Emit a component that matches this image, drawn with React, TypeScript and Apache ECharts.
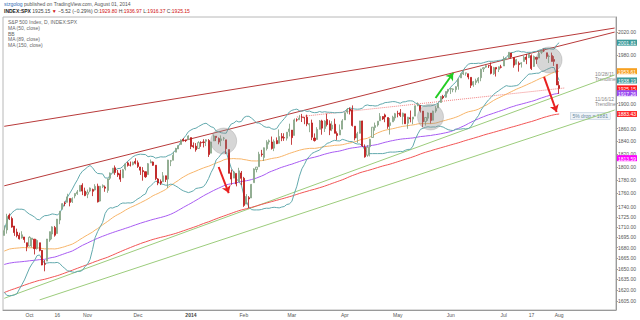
import React, { useEffect, useRef } from 'react';
import * as echarts from 'echarts';

// ---- history closes (for indicator warm-up, not drawn) ----
const feb13 = [1520.33, 1521.38, 1519.79, 1530.94, 1511.95, 1502.42, 1515.6, 1487.85, 1496.94, 1515.99, 1514.68];
const mar13 = [1518.2, 1525.2, 1539.79, 1541.46, 1544.26, 1551.18, 1556.22, 1552.48, 1554.52, 1563.23, 1560.7, 1552.1, 1548.34, 1558.71, 1545.8, 1556.89, 1551.69, 1563.77, 1562.85, 1569.19];
const apr13 = [1562.17, 1570.25, 1553.69, 1559.98, 1553.28, 1563.07, 1568.61, 1587.73, 1593.37, 1588.85, 1552.36, 1574.57, 1552.01, 1541.61, 1555.25, 1562.5, 1578.78, 1578.79, 1585.16, 1582.24, 1593.61, 1597.57];
const may13 = [1582.7, 1597.59, 1614.42, 1617.5, 1625.96, 1632.69, 1626.67, 1633.7, 1633.77, 1650.34, 1658.78, 1650.47, 1667.47, 1666.29, 1669.16, 1655.35, 1650.51, 1649.6, 1660.06, 1648.36, 1654.41, 1630.74];
const jun13 = [1640.42, 1631.38, 1608.9, 1622.56, 1643.38, 1642.81, 1626.13, 1612.52, 1636.36, 1626.73, 1639.04, 1651.81, 1628.93, 1588.19, 1592.43, 1573.09, 1588.03, 1603.26, 1613.2, 1606.28];
const jul13 = [1614.96, 1614.08, 1615.41, 1631.89, 1640.46, 1652.32, 1652.62, 1675.02, 1680.19, 1682.5, 1676.26, 1680.91, 1689.37, 1692.09, 1695.53, 1692.39, 1685.94, 1690.25, 1691.65, 1685.33, 1685.96, 1685.73];
const aug13 = [1706.87, 1709.67, 1707.14, 1697.37, 1690.91, 1697.48, 1691.42, 1689.47, 1694.16, 1685.39, 1661.32, 1655.83, 1646.06, 1652.35, 1642.8, 1656.96, 1663.5, 1656.78, 1630.48, 1634.96, 1638.17, 1632.97];
const sep13early = [1639.77, 1653.08, 1655.08, 1655.17, 1671.71, 1683.99, 1689.13, 1683.42, 1687.99, 1697.6];

// ---- visible daily candles [open, high, low, close] ----
const sep13 = [
  [1697.73, 1712.36, 1697.73, 1704.76], [1705.74, 1729.44, 1700.35, 1725.52], [1727.34, 1729.86, 1720.2, 1722.34],
  [1722.44, 1725.23, 1708.89, 1709.91], [1711.44, 1711.44, 1697.1, 1701.84], [1702.6, 1707.63, 1694.9, 1697.42],
  [1698.02, 1701.71, 1691.88, 1692.77], [1694.05, 1703.85, 1693.11, 1698.67], [1695.52, 1695.52, 1687.11, 1691.75],
  [1687.26, 1687.26, 1674.99, 1681.55],
];
const oct13 = [
  [1682.41, 1696.55, 1682.07, 1695.0], [1691.9, 1693.87, 1680.34, 1693.87], [1692.35, 1692.35, 1670.36, 1678.66],
  [1678.79, 1691.94, 1677.33, 1690.5], [1687.15, 1687.15, 1674.7, 1676.12], [1676.22, 1676.79, 1655.03, 1655.45],
  [1656.99, 1662.47, 1646.47, 1656.4], [1660.88, 1692.56, 1660.88, 1692.56], [1691.09, 1703.44, 1688.52, 1703.2],
  [1699.86, 1711.03, 1692.13, 1710.14], [1709.17, 1711.57, 1695.93, 1698.06], [1700.49, 1721.76, 1700.49, 1721.54],
  [1720.17, 1733.45, 1714.12, 1733.15], [1736.72, 1745.31, 1735.74, 1744.5], [1745.2, 1747.79, 1740.67, 1744.66],
  [1746.48, 1759.33, 1746.48, 1754.67], [1752.27, 1752.27, 1740.5, 1746.38], [1747.48, 1753.94, 1745.5, 1752.07],
  [1756.01, 1759.82, 1752.45, 1759.77], [1759.42, 1764.99, 1757.67, 1762.11], [1762.93, 1772.09, 1762.93, 1771.95],
  [1772.27, 1775.22, 1757.24, 1763.31], [1763.24, 1768.53, 1755.72, 1756.54],
];
const nov13 = [
  [1758.7, 1765.67, 1752.7, 1761.64], [1763.4, 1768.78, 1761.56, 1767.93], [1765.67, 1767.03, 1755.76, 1762.97],
  [1765.0, 1773.74, 1764.23, 1770.49], [1770.74, 1774.54, 1746.2, 1747.15], [1748.37, 1770.78, 1747.63, 1770.61],
  [1769.96, 1773.44, 1767.85, 1771.89], [1769.51, 1771.78, 1762.29, 1767.69], [1764.37, 1782.0, 1760.64, 1782.0],
  [1782.75, 1791.53, 1780.22, 1790.62], [1790.66, 1798.22, 1790.66, 1798.18], [1798.82, 1802.33, 1788.0, 1791.53],
  [1790.79, 1795.51, 1784.72, 1787.87], [1789.59, 1795.73, 1777.23, 1781.37], [1783.52, 1797.16, 1783.52, 1795.85],
  [1797.21, 1804.84, 1794.7, 1804.76], [1806.33, 1808.1, 1800.58, 1802.48], [1802.87, 1808.42, 1800.77, 1802.75],
  [1803.48, 1808.27, 1802.59, 1807.23], [1808.69, 1813.55, 1803.98, 1805.81],
];
const dec13 = [
  [1806.55, 1810.02, 1798.6, 1800.9], [1800.1, 1800.1, 1787.85, 1795.15], [1794.46, 1799.8, 1779.09, 1792.81],
  [1792.82, 1792.82, 1783.38, 1785.03], [1788.36, 1806.04, 1788.36, 1805.09], [1806.21, 1811.52, 1806.21, 1808.37],
  [1807.6, 1808.52, 1801.75, 1802.62], [1802.76, 1802.97, 1780.09, 1782.22], [1781.71, 1782.99, 1772.28, 1775.5],
  [1777.98, 1780.92, 1772.45, 1775.32], [1777.48, 1792.22, 1777.48, 1786.54], [1786.47, 1786.77, 1777.05, 1781.0],
  [1781.46, 1811.08, 1767.99, 1810.65], [1809.0, 1810.88, 1801.35, 1809.6], [1810.39, 1823.75, 1810.25, 1818.32],
  [1822.92, 1829.75, 1822.92, 1827.99], [1828.02, 1833.32, 1828.02, 1833.32], [1834.96, 1842.84, 1834.96, 1842.02],
  [1842.97, 1844.89, 1839.81, 1841.4], [1841.47, 1842.47, 1838.77, 1841.07], [1842.61, 1849.44, 1842.41, 1848.36],
];
const jan14 = [
  [1845.86, 1845.86, 1827.74, 1831.98], [1833.21, 1838.24, 1829.13, 1831.37], [1832.31, 1837.16, 1823.73, 1826.77],
  [1828.71, 1840.1, 1828.71, 1837.88], [1837.9, 1840.02, 1831.4, 1837.49], [1839.0, 1843.23, 1830.38, 1838.13],
  [1840.06, 1843.15, 1832.43, 1842.37], [1841.26, 1843.45, 1815.52, 1819.2], [1821.36, 1839.26, 1821.36, 1838.88],
  [1840.52, 1850.84, 1840.52, 1848.38], [1847.99, 1847.99, 1840.3, 1845.89], [1844.23, 1846.04, 1835.23, 1838.7],
  [1841.05, 1849.31, 1832.38, 1843.8], [1844.71, 1846.87, 1840.88, 1844.86], [1842.29, 1842.29, 1820.06, 1828.46],
  [1826.96, 1826.96, 1790.29, 1790.29], [1791.03, 1795.98, 1772.88, 1781.56], [1783.0, 1793.87, 1783.0, 1792.5],
  [1790.15, 1790.15, 1770.45, 1774.2], [1777.17, 1798.77, 1777.17, 1794.19], [1790.88, 1793.88, 1772.26, 1782.59],
];
const feb14 = [
  [1782.68, 1784.83, 1739.66, 1741.89], [1743.82, 1758.73, 1743.82, 1755.2], [1753.38, 1755.79, 1737.92, 1751.64],
  [1752.99, 1774.06, 1752.99, 1773.43], [1776.01, 1798.03, 1776.01, 1797.02], [1796.2, 1799.94, 1791.83, 1799.84],
  [1800.45, 1823.54, 1800.41, 1819.75], [1820.12, 1826.55, 1815.97, 1819.26], [1814.82, 1830.25, 1809.22, 1829.83],
  [1828.46, 1841.65, 1825.59, 1838.63], [1839.03, 1842.87, 1835.01, 1840.76], [1838.9, 1847.5, 1826.99, 1828.75],
  [1829.24, 1842.79, 1824.58, 1839.78], [1841.07, 1846.13, 1835.6, 1836.25], [1836.78, 1858.71, 1836.78, 1847.61],
  [1847.66, 1852.91, 1840.19, 1845.12], [1845.79, 1852.65, 1840.66, 1845.16], [1844.9, 1854.53, 1841.13, 1854.29],
  [1855.12, 1867.92, 1847.67, 1859.45],
];
const mar14 = [
  [1857.68, 1857.68, 1834.44, 1845.73], [1849.23, 1876.23, 1849.23, 1873.91], [1874.05, 1876.53, 1871.11, 1873.81],
  [1874.18, 1881.94, 1874.18, 1877.03], [1878.52, 1883.57, 1870.56, 1878.04], [1877.86, 1877.87, 1867.04, 1877.17],
  [1878.26, 1882.35, 1863.88, 1867.63], [1866.15, 1868.38, 1854.38, 1868.2], [1869.06, 1874.4, 1841.86, 1846.34],
  [1845.07, 1852.44, 1839.57, 1841.13], [1842.81, 1862.3, 1842.81, 1858.83], [1858.92, 1873.76, 1858.92, 1872.25],
  [1872.25, 1874.14, 1850.35, 1860.77], [1860.09, 1873.49, 1854.63, 1872.01], [1874.53, 1883.97, 1863.46, 1866.52],
  [1867.67, 1873.34, 1849.69, 1857.44], [1859.48, 1871.87, 1855.96, 1865.62], [1867.09, 1875.92, 1852.56, 1852.56],
  [1852.11, 1855.55, 1842.11, 1849.04], [1850.07, 1866.63, 1850.07, 1857.62], [1859.16, 1875.18, 1859.16, 1872.34],
];
const apr14 = [
  [1873.96, 1885.84, 1873.96, 1885.52], [1886.61, 1893.17, 1883.79, 1890.9], [1891.43, 1893.8, 1882.65, 1888.77],
  [1890.25, 1897.28, 1863.26, 1865.09], [1863.92, 1864.04, 1841.48, 1845.04], [1845.48, 1854.95, 1837.49, 1851.96],
  [1852.64, 1872.43, 1852.38, 1872.18], [1872.28, 1872.53, 1830.87, 1833.08], [1830.65, 1835.07, 1814.36, 1815.69],
  [1818.18, 1834.19, 1815.8, 1830.61], [1831.45, 1844.02, 1816.29, 1842.98], [1846.01, 1862.31, 1846.01, 1862.31],
  [1861.73, 1869.63, 1856.72, 1864.85], [1865.79, 1871.89, 1863.18, 1871.89], [1872.57, 1884.89, 1872.57, 1879.55],
  [1879.32, 1879.75, 1873.91, 1875.39], [1881.97, 1884.06, 1870.24, 1878.61], [1877.72, 1877.72, 1859.7, 1863.4],
  [1865.0, 1877.01, 1850.61, 1869.43], [1870.78, 1880.6, 1870.78, 1878.33], [1877.1, 1885.2, 1872.69, 1883.95],
];
const may14 = [
  [1884.39, 1888.59, 1878.04, 1883.68], [1885.3, 1891.33, 1878.5, 1881.14], [1879.45, 1885.51, 1866.77, 1884.66],
  [1883.69, 1883.69, 1867.72, 1867.72], [1868.53, 1878.83, 1859.79, 1878.21], [1877.39, 1889.07, 1870.05, 1875.63],
  [1875.27, 1878.57, 1867.02, 1878.48], [1880.03, 1897.13, 1880.03, 1896.65], [1896.75, 1902.17, 1896.06, 1897.45],
  [1897.13, 1897.13, 1885.77, 1888.53], [1888.16, 1888.16, 1862.36, 1870.85], [1871.19, 1878.28, 1864.82, 1877.86],
  [1876.66, 1886.0, 1872.42, 1885.08], [1884.88, 1884.88, 1868.14, 1872.83], [1873.34, 1888.8, 1873.34, 1888.03],
  [1888.19, 1896.33, 1885.39, 1892.49], [1893.32, 1901.26, 1893.32, 1900.53], [1902.01, 1912.28, 1902.01, 1911.91],
  [1911.77, 1914.46, 1907.3, 1909.78], [1910.6, 1920.03, 1909.82, 1920.03], [1920.33, 1924.03, 1916.64, 1923.57],
];
const jun14 = [
  [1923.87, 1925.88, 1915.98, 1924.97], [1923.07, 1925.07, 1918.79, 1924.24], [1923.06, 1928.63, 1918.6, 1927.88],
  [1928.52, 1941.74, 1922.93, 1940.46], [1942.41, 1949.44, 1942.41, 1949.44], [1948.97, 1955.55, 1947.16, 1951.27],
  [1950.34, 1950.86, 1946.09, 1950.79], [1949.37, 1949.37, 1940.08, 1943.89], [1943.35, 1943.35, 1925.78, 1930.11],
  [1930.8, 1937.3, 1927.69, 1936.16], [1934.84, 1941.15, 1930.91, 1937.78], [1937.15, 1943.69, 1933.55, 1941.99],
  [1942.73, 1957.74, 1936.86, 1956.98], [1957.5, 1959.87, 1952.26, 1959.48], [1960.45, 1963.91, 1959.17, 1962.87],
  [1962.92, 1963.74, 1958.89, 1962.61], [1961.97, 1968.17, 1948.34, 1949.98], [1949.27, 1960.83, 1947.49, 1959.53],
  [1959.89, 1959.89, 1944.69, 1957.22], [1956.56, 1961.47, 1952.18, 1960.96], [1960.79, 1964.24, 1958.22, 1960.23],
];
const jul14 = [
  [1962.29, 1978.58, 1962.29, 1973.32], [1973.06, 1976.67, 1972.58, 1974.62], [1975.88, 1985.59, 1975.88, 1985.44],
  [1984.22, 1984.22, 1974.88, 1977.65], [1976.39, 1976.39, 1959.46, 1963.71], [1965.1, 1974.15, 1965.1, 1972.83],
  [1966.67, 1969.84, 1952.86, 1964.68], [1965.76, 1968.67, 1959.63, 1967.57], [1969.86, 1979.85, 1969.86, 1977.1],
  [1977.36, 1982.52, 1965.34, 1973.28], [1976.35, 1983.94, 1975.67, 1981.57], [1979.75, 1981.8, 1955.59, 1958.12],
  [1961.54, 1979.91, 1960.82, 1978.22], [1976.93, 1976.93, 1965.77, 1973.63], [1975.65, 1986.24, 1975.65, 1983.53],
  [1985.32, 1989.23, 1982.44, 1987.01], [1988.07, 1991.39, 1985.79, 1987.98], [1984.6, 1984.6, 1974.37, 1978.34],
  [1978.25, 1981.52, 1967.31, 1978.91], [1980.03, 1984.85, 1969.95, 1969.95], [1973.21, 1978.9, 1962.42, 1970.07],
  [1965.14, 1965.14, 1930.67, 1930.67],
];
const aug14 = [[1929.8, 1936.97, 1916.37, 1925.15]];

// ---- axes ----
const xTickIdx = [10, 21, 33, 53, 74, 95, 114, 135, 156, 177, 198, 209, 220];
const xTickText = ['Oct', '16', 'Nov', 'Dec', '2014', 'Feb', 'Mar', 'Apr', 'May', 'Jun', 'Jul', '17', 'Aug'];
const yTicks = [2020, 1980, 1900, 1860, 1840, 1820, 1800, 1780, 1760, 1740, 1725, 1710, 1695, 1680, 1665, 1650, 1635, 1620, 1605];
const futureSlots = 22;
const extraTagValue = 1813.59;

// ---- drawings: [candle index, price] ----
const channelTop = [[0, 1863.7], [242, 2027]];
const channelLow = [[0, 1771.3], [242, 2020]];
const trend102811 = [[0, 1608.9], [242, 1947.3]];
const trend111612 = [[13.9, 1606.7], [242, 1889.8]];
const dottedLine = [[116.2, 1878.6], [221.7, 1925.7]];
const circles = [[87.1, 1840.4], [169.3, 1878.6], [215.6, 1972.4]];
const redArrow1 = [[84.7, 1800], [89.4, 1760.4]];
const redArrow2 = [[213.7, 1944], [219.2, 1886.6]];
const greenArrow = [[170.5, 1909.4], [178, 1950.6]];

export default function App() {
  const ref = useRef<HTMLDivElement>(null);
  useEffect(() => {
    if (!ref.current) return;
    const chart = echarts.init(ref.current, null, { renderer: 'svg' });
    const candles = [...sep13, ...oct13, ...nov13, ...dec13, ...jan14, ...feb14, ...mar14, ...apr14, ...may14, ...jun14, ...jul14, ...aug14];
    const prior = [...feb13, ...mar13, ...apr13, ...may13, ...jun13, ...jul13, ...aug13, ...sep13early];
    const closes = candles.map((r) => r[3]);
    const hist = [...prior, ...closes];
    const P = prior.length;
    const sma = (n: number) =>
      closes.map((_, i) => {
        const end = P + i;
        const start = Math.max(0, end - n + 1);
        let s = 0;
        for (let k = start; k <= end; k++) s += hist[k];
        return s / (end - start + 1);
      });
    const bb = (n: number, m: number) => {
      const up: number[] = [];
      const lo: number[] = [];
      closes.forEach((_, i) => {
        const end = P + i;
        const start = end - n + 1;
        let s = 0;
        for (let k = start; k <= end; k++) s += hist[k];
        const mean = s / n;
        let v = 0;
        for (let k = start; k <= end; k++) v += (hist[k] - mean) ** 2;
        const sd = Math.sqrt(v / n);
        up.push(mean + m * sd);
        lo.push(mean - m * sd);
      });
      return { up, lo };
    };
    const ma50 = sma(50);
    const ma89 = sma(89);
    const ma150 = sma(150);
    const band = bb(20, 2);
    const N = candles.length;
    const cats = Array.from({ length: N + futureSlots }, (_, i) => String(i));
    const last = (a: number[]) => a[a.length - 1];

    const tags = [
      { v: last(band.up), bg: '#3a9a9a', fg: '#fff' },
      { v: last(ma50), bg: '#f7a020', fg: '#fff' },
      { v: last(band.lo), bg: '#3a9a9a', fg: '#fff' },
      { v: last(closes), bg: '#ff1a1a', fg: '#fff' },
      { v: last(ma89), bg: '#9a48f0', fg: '#fff' },
      { v: last(ma150), bg: '#ff2a2a', fg: '#fff' },
      { v: extraTagValue, bg: '#ff00ff', fg: '#fff' },
    ];
    const rich: any = {};
    tags.forEach((t, i) => {
      rich['t' + i] = { backgroundColor: t.bg, color: t.fg, fontSize: 5, padding: [1, 1, 0, 1], fontFamily: 'Liberation Sans' };
    });

    const yMin = 1800 * Math.exp(-143 / 1170);
    const yMax = 1800 * Math.exp(150 / 1170);

    const lineSeries = (data: number[] | number[][], color: string, width = 1, type: any = 'solid', z = 3) => ({
      type: 'line',
      data,
      showSymbol: false,
      symbol: 'none',
      silent: true,
      clip: true,
      z,
      lineStyle: { color, width, type },
    });
    const arrow = (coords: number[][], color: string) => ({
      type: 'lines',
      coordinateSystem: 'cartesian2d',
      symbol: ['none', 'arrow'],
      symbolSize: 7,
      silent: true,
      z: 6,
      lineStyle: { color, width: 2, opacity: 1 },
      data: [{ coords }],
    });

    chart.setOption({
      animation: false,
      backgroundColor: '#ffffff',
      textStyle: { fontFamily: 'Liberation Sans' },
      grid: { left: 3, right: 20, top: 17, bottom: 10, show: true, borderColor: '#b8b8b8', borderWidth: 1, backgroundColor: 'transparent' },
      xAxis: {
        type: 'category',
        data: cats,
        axisLine: { lineStyle: { color: '#9a9a9a' } },
        axisTick: { show: false },
        splitLine: { show: false },
        axisLabel: {
          interval: (i: number) => xTickIdx.includes(i),
          formatter: (_v: string, i: number) => {
            const k = xTickIdx.indexOf(i);
            if (k < 0) return '';
            return xTickText[k] === '2014' ? '{b|2014}' : xTickText[k];
          },
          rich: { b: { fontWeight: 'bold', fontSize: 5, color: '#444' } },
          fontSize: 5,
          color: '#555',
          margin: 2,
        },
      },
      yAxis: [
        {
          type: 'log',
          logBase: 10,
          position: 'right',
          min: yMin,
          max: yMax,
          axisLine: { show: true, lineStyle: { color: '#9a9a9a' } },
          axisTick: { show: true, length: 2, lineStyle: { color: '#9a9a9a' }, customValues: yTicks },
          splitLine: { show: false },
          axisLabel: { fontSize: 5, color: '#555', margin: 2, customValues: yTicks, formatter: (v: number) => v.toFixed(2) },
        },
        {
          type: 'log',
          logBase: 10,
          position: 'right',
          min: yMin,
          max: yMax,
          axisLine: { show: false },
          axisTick: { show: false },
          splitLine: { show: false },
          axisLabel: {
            margin: 1,
            customValues: tags.map((t) => t.v),
            formatter: (v: number) => {
              let best = 0;
              tags.forEach((t, i) => {
                if (Math.abs(t.v - v) < Math.abs(tags[best].v - v)) best = i;
              });
              return '{t' + best + '|' + tags[best].v.toFixed(2) + '}';
            },
            rich,
          },
        },
      ],
      series: [
        lineSeries(channelTop, '#b83a3a'),
        lineSeries(channelLow, '#b83a3a'),
        lineSeries(trend102811, '#9ccc7c'),
        lineSeries(trend111612, '#9ccc7c'),
        lineSeries(dottedLine, '#f08080', 1, 'dotted'),
        lineSeries(ma150, '#f25555'),
        lineSeries(ma89, '#a85cf2'),
        lineSeries(ma50, '#f7b56a'),
        lineSeries(band.up, '#62a9ad'),
        lineSeries(band.lo, '#62a9ad'),
        {
          type: 'candlestick',
          data: candles.map((r) => [r[0], r[3], r[2], r[1]]),
          barWidth: '62%',
          z: 4,
          silent: true,
          itemStyle: { color: '#eef5ec', color0: '#d41c1c', borderColor: '#7a9a7a', borderColor0: '#b81414', borderWidth: 0.8 },
        },
        {
          type: 'scatter',
          data: circles,
          symbolSize: 26,
          silent: true,
          z: 5,
          itemStyle: { color: 'rgba(140,140,140,0.45)', borderColor: 'rgba(110,110,110,0.5)', borderWidth: 0.6 },
        },
        arrow(redArrow1, '#e82020'),
        arrow(redArrow2, '#e82020'),
        arrow(greenArrow, '#22cc22'),
      ],
      graphic: [
        {
          type: 'text',
          left: 4,
          top: 1,
          style: {
            text: '{u|stzgolog} published on TradingView.com, August 01, 2014',
            fontSize: 5,
            fill: '#555',
            fontFamily: 'Liberation Sans',
            rich: { u: { fill: '#2f6db5', fontSize: 5 } },
          },
        },
        {
          type: 'text',
          left: 4,
          top: 8,
          style: {
            text: '{b|INDEX:SPX} 1925.15 {r|▼} −5.52 (−0.29%) O:{r|1929.80} H:{r|1936.97} L:{r|1916.37} C:{r|1925.15}',
            fontSize: 5,
            fill: '#444',
            fontFamily: 'Liberation Sans',
            rich: { b: { fontWeight: 'bold', fontSize: 5, fill: '#222' }, r: { fill: '#d01010', fontSize: 5 } },
          },
        },
        {
          type: 'text',
          left: 8,
          top: 19,
          style: {
            text: 'S&P 500 Index, D, INDEX:SPX\nMA (50, close)\nBB\nMA (89, close)\nMA (150, close)',
            fontSize: 5,
            lineHeight: 5.8,
            fill: '#666',
            fontFamily: 'Liberation Sans',
          },
        },
        { type: 'text', left: 595, top: 71, style: { text: '10/28/11\nTrendline', fontSize: 5, lineHeight: 5, fill: '#888', fontFamily: 'Liberation Sans' } },
        { type: 'text', left: 595, top: 96, style: { text: '11/16/12\nTrendline', fontSize: 5, lineHeight: 5, fill: '#888', fontFamily: 'Liberation Sans' } },
        {
          type: 'text',
          left: 570,
          top: 112,
          style: {
            text: '5% drop = 1881',
            fontSize: 5,
            fill: '#6a8aa0',
            fontFamily: 'Liberation Sans',
            backgroundColor: '#eef3f8',
            borderColor: '#b8c8d8',
            borderWidth: 0.5,
            padding: [1, 2],
          },
        },
      ],
    });
    return () => chart.dispose();
  }, []);
  return (
    <div style={{ position: 'absolute', left: 0, top: 0, width: 640, height: 320, background: '#fff' }}>
      <div ref={ref} style={{ width: 640, height: 320 }} />
    </div>
  );
}
